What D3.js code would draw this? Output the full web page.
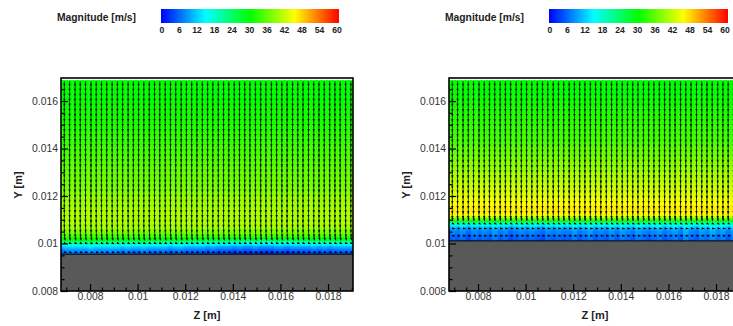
<!DOCTYPE html>
<html>
<head>
<meta charset="utf-8">
<script src="https://cdn.jsdelivr.net/npm/d3@7"></script>
<style>
  html, body { margin: 0; padding: 0; background: #fff; overflow: hidden; }
  text { font-family: "Liberation Sans", Arial, sans-serif; }
</style>
</head>
<body>
<div id="wrapper"></div>
<script>
// tick values
const zMajorTicks = [0.008, 0.01, 0.012, 0.014, 0.016, 0.018]
const zMajorLabels = ["0.008", "0.01", "0.012", "0.014", "0.016", "0.018"]
const zMinorTicks = [0.007, 0.0075, 0.0085, 0.009, 0.0095, 0.0105, 0.011, 0.0115, 0.0125, 0.013, 0.0135, 0.0145, 0.015, 0.0155, 0.0165, 0.017, 0.0175, 0.0185, 0.019]
const yMajorTicks = [0.008, 0.01, 0.012, 0.014, 0.016]
const yMajorLabels = ["0.008", "0.01", "0.012", "0.014", "0.016"]
const yMinorTicks = [0.0085, 0.009, 0.0095, 0.0105, 0.011, 0.0115, 0.0125, 0.013, 0.0135, 0.0145, 0.015, 0.0155, 0.0165]
const legendTicks = [0, 6, 12, 18, 24, 30, 36, 42, 48, 54, 60]

// colour map stops
const rampValues = [0, 15, 30, 45, 60]
const rampColors = ["#0000ff", "#00ffff", "#00ff00", "#ffff00", "#ff0000"]

// grid columns, shared by both panels
const zStations = [0.00692, 0.00714, 0.00737, 0.00759, 0.00781, 0.00804, 0.00826, 0.00848, 0.0087, 0.00893,
  0.00915, 0.00937, 0.0096, 0.00982, 0.01004, 0.01026, 0.01049, 0.01071, 0.01093, 0.01116,
  0.01138, 0.0116, 0.01183, 0.01205, 0.01227, 0.01249, 0.01272, 0.01294, 0.01316, 0.01339,
  0.01361, 0.01383, 0.01406, 0.01428, 0.0145, 0.01472, 0.01495, 0.01517, 0.01539, 0.01562,
  0.01584, 0.01606, 0.01628, 0.01651, 0.01673, 0.01695, 0.01718, 0.0174, 0.01762, 0.01784,
  0.01807, 0.01829, 0.01851, 0.01874, 0.01896]

// left panel: wall height and magnitude profile
const wallLeft = 0.00955
const fieldYLeft = [0.01688, 0.0167, 0.0165, 0.0162, 0.016, 0.0157, 0.0155, 0.0152, 0.015, 0.0147, 0.0145, 0.0142, 0.014, 0.0137, 0.0135, 0.0132, 0.013, 0.0127, 0.0125, 0.0122, 0.012, 0.0117, 0.0115, 0.0112, 0.011, 0.0108, 0.0106, 0.0105, 0.0104, 0.0103, 0.01025, 0.0102, 0.01015, 0.0101, 0.01005, 0.01, 0.00995, 0.0099, 0.00985, 0.0098, 0.00975, 0.0097, 0.00965, 0.0096]
const fieldLeft = [30, 30, 30, 30, 30.5, 31, 31, 31.5, 32, 32.5, 33, 33.5, 34, 34.5, 35, 35.5, 36, 36.5, 37, 38, 39, 39.5, 40, 40, 40, 39.5, 38, 36.5, 35, 33, 31, 29, 27, 24, 21, 18, 15, 12.5, 11, 9.5, 8, 7, 6, 5]
const wallOffsetLeft = [1, 1, 1, 1, 1, 2, 1, 1, 1, 1, 1, 0, 1, 0, 0, 1, 0, 0, 0, 0, -1, 0, 0, -1, -1, -1, -1, -2, -1, -2, -2, -2, -3, -2, -3, -3, -2, -3, -3, -3, -2, -2, -3, -2, -2, -2, -2, -1, -2, -1, -2, -1, -1, -1, -1]

// right panel: wall height and magnitude profile
const wallRight = 0.01011
const fieldYRight = [0.01688, 0.0167, 0.0165, 0.0162, 0.016, 0.0157, 0.0155, 0.0152, 0.015, 0.0147, 0.0145, 0.0142, 0.014, 0.0137, 0.0135, 0.0132, 0.013, 0.0127, 0.0125, 0.0122, 0.012, 0.0118, 0.0116, 0.0114, 0.0113, 0.0112, 0.01115, 0.0111, 0.01105, 0.011, 0.01095, 0.0109, 0.01085, 0.0108, 0.01075, 0.0107, 0.01065, 0.0106, 0.01055, 0.0105, 0.0104, 0.0103, 0.0102]
const fieldRight = [30, 30, 30, 30.5, 31, 31.5, 32, 32.5, 33, 33.5, 34, 35, 36, 37, 38, 39, 40, 41, 42, 43, 44, 45, 46, 46, 45.5, 44, 42, 39, 36, 32, 27, 22, 18, 15, 12.5, 11, 9.5, 8.5, 7.5, 7, 6, 5.5, 5]
const wallOffsetRight = [1, 0, 1, -1, 1, 0, 1, 0, 2, 0, 1, -1, 0, 1, 0, 1, 0, -1, 1, 0, 1, 0, 0, 2, 0, 1, 2, 0, 1, 0, 2, 0, 2, 1, 0, 2, 1, 0, 1, 2, 0, 1, 2, 0, 3, 1, 0, 2, 1, 3, 1, 2, 0, 2, 1]

// arrow rows, velocity components in m/s
const arrowYLeft = [0.01683, 0.01662, 0.01641, 0.0162, 0.01599, 0.01578, 0.01557, 0.01536, 0.01515, 0.01494, 0.01473, 0.01452, 0.01431, 0.0141, 0.01389, 0.01368, 0.01347, 0.01326, 0.01305, 0.01284, 0.01263, 0.01242, 0.01221, 0.012, 0.01179, 0.01158, 0.01137, 0.01116, 0.01095, 0.01074, 0.01053, 0.0103, 0.01002, 0.00964]
const arrowVyLeft = [-30, -30, -30, -30, -31, -31, -31, -32, -32, -33, -33, -33, -34, -34, -35, -35, -35, -36, -36, -37, -37, -37, -38, -38, -38, -39, -39, -39, -38, -38, -37, -24, -5, -2]
const arrowVzLeft = [0, 0, 0, 0, 0, 0, 0, 0, 0, 0, 0, 0, 0, 0, 0, 0, 0, 0, 0, 0, 0, 0, 0, 0, 0, 0, 0, 0, 0, 1, 2, 5, 12, 14]

const arrowYRight = [0.01683, 0.01662, 0.01641, 0.0162, 0.01599, 0.01578, 0.01557, 0.01536, 0.01515, 0.01494, 0.01473, 0.01452, 0.01431, 0.0141, 0.01389, 0.01368, 0.01347, 0.01326, 0.01305, 0.01284, 0.01263, 0.01242, 0.01221, 0.012, 0.01179, 0.01158, 0.01137, 0.01116, 0.01085, 0.01064, 0.01033]
const arrowVyRight = [-30, -30, -30, -31, -31, -32, -32, -33, -33, -34, -34, -35, -36, -37, -37, -38, -39, -40, -41, -42, -43, -43, -44, -45, -45, -46, -46, -30, -6, -2, -2]
const arrowVzRight = [0, 0, 0, 0, 0, 0, 0, 0, 0, 0, 0, 0, 0, 0, 0, 0, 0, 0, 0, 0, 0, 0, 0, 0, 0, 0, 0, 2, 12, 16, 16]

function drawChart() {

  const dimensions = { width: 733, height: 326 }

  const wrapper = d3.select("#wrapper")
    .append("svg")
      .attr("width", dimensions.width)
      .attr("height", dimensions.height)
      .style("display", "block")

  const colorScale = d3.scaleLinear()
    .domain(rampValues)
    .range(rampColors)
    .clamp(true)

  // shared gradient for both colour bars
  const gradient = wrapper.append("defs")
    .append("linearGradient")
      .attr("id", "legendGradient")
  gradient.selectAll("stop")
    .data(rampValues)
    .join("stop")
      .attr("offset", d => d / 60)
      .attr("stop-color", d => colorScale(d))

  function drawLegend(g, panel) {
    g.append("text")
      .attr("x", panel.legendTitleX)
      .attr("y", 21)
      .attr("font-size", 10.3)
      .attr("font-weight", "bold")
      .attr("fill", "#222")
      .text("Magnitude [m/s]")

    g.append("rect")
      .attr("x", panel.legendBar[0])
      .attr("y", 9)
      .attr("width", panel.legendBar[1] - panel.legendBar[0])
      .attr("height", 14)
      .attr("fill", "url(#legendGradient)")

    const legendScale = d3.scaleLinear()
      .domain([0, 60])
      .range(panel.legendLabels)

    g.selectAll(".legendLabel")
      .data(legendTicks)
      .join("text")
        .attr("class", "legendLabel")
        .attr("x", d => legendScale(d))
        .attr("y", 33)
        .attr("text-anchor", "middle")
        .attr("font-size", 8.6)
        .attr("font-weight", "bold")
        .attr("fill", "#222")
        .text(d => d)
  }

  function drawPanel(panel) {
    const g = wrapper.append("g")
    drawLegend(g, panel)

    const zScale = d3.scaleLinear()
      .domain([0.00678, 0.01905])
      .range([panel.left, panel.left + 292])
    const yScale = d3.scaleLinear()
      .domain([0.008, 0.01697])
      .range([291, 78])

    const clipId = "clip" + panel.left
    g.append("clipPath")
      .attr("id", clipId)
      .append("rect")
        .attr("x", panel.left)
        .attr("y", 78)
        .attr("width", 292)
        .attr("height", 213)

    const plot = g.append("g").attr("clip-path", `url(#${clipId})`)

    // contour cells, one row per profile value
    const rows = panel.fieldY.map((y, i) => ({
      y0: y,
      y1: i < panel.fieldY.length - 1 ? panel.fieldY[i + 1] : panel.wall,
      value: panel.field[i],
    }))
    const cells = rows.flatMap(row => zStations.map((z, c) => ({
      z,
      row,
      // the wall-bound layer varies along z, the free stream does not
      value: row.y0 < panel.layerTop ? row.value + panel.wallOffset[c] : row.value,
    })))

    const columnWidth = zScale(zStations[1]) - zScale(zStations[0])

    plot.selectAll(".cell")
      .data(cells)
      .join("rect")
        .attr("class", "cell")
        .attr("x", d => zScale(d.z) - columnWidth / 2)
        .attr("y", d => yScale(d.row.y0))
        .attr("width", columnWidth + 0.6)
        .attr("height", d => yScale(d.row.y1) - yScale(d.row.y0) + 0.6)
        .attr("fill", d => colorScale(d.value))

    // fill the strip left of the first column
    plot.selectAll(".edge")
      .data(rows)
      .join("rect")
        .attr("class", "edge")
        .attr("x", panel.left)
        .attr("y", d => yScale(d.y0))
        .attr("width", zScale(zStations[0]) - panel.left)
        .attr("height", d => yScale(d.y1) - yScale(d.y0) + 0.6)
        .attr("fill", d => colorScale(d.value))

    // velocity vectors
    const lengthScale = d3.scaleLinear().domain([0, 30]).range([0, 5])
    const arrows = panel.arrowY.flatMap((y, i) => zStations.map(z => ({
      z,
      y,
      vy: panel.arrowVy[i],
      vz: panel.arrowVz[i],
    })))

    const arrow = d3.line()

    plot.selectAll(".shaft")
      .data(arrows)
      .join("path")
        .attr("class", "shaft")
        .attr("d", d => {
          const x0 = zScale(d.z)
          const y0 = yScale(d.y)
          return arrow([[x0, y0], [x0 + lengthScale(d.vz), y0 - lengthScale(d.vy)]])
        })
        .attr("stroke", "#062000")
        .attr("stroke-opacity", 0.8)
        .attr("stroke-width", 1)
        .attr("fill", "none")

    plot.selectAll(".head")
      .data(arrows)
      .join("path")
        .attr("class", "head")
        .attr("d", d => {
          const tipX = zScale(d.z) + lengthScale(d.vz)
          const tipY = yScale(d.y) - lengthScale(d.vy)
          const angle = Math.atan2(-lengthScale(d.vy), lengthScale(d.vz))
          const back = 2.6
          const half = 1.15
          const baseX = tipX - back * Math.cos(angle)
          const baseY = tipY - back * Math.sin(angle)
          return arrow([
            [tipX, tipY],
            [baseX - half * Math.sin(angle), baseY + half * Math.cos(angle)],
            [baseX + half * Math.sin(angle), baseY - half * Math.cos(angle)],
          ]) + "Z"
        })
        .attr("fill", "#000")

    // wall block
    plot.append("rect")
      .attr("x", panel.left)
      .attr("y", yScale(panel.wall))
      .attr("width", 292)
      .attr("height", 291 - yScale(panel.wall))
      .attr("fill", "#595959")
    plot.append("line")
      .attr("x1", panel.left)
      .attr("x2", panel.left + 292)
      .attr("y1", yScale(panel.wall))
      .attr("y2", yScale(panel.wall))
      .attr("stroke", "#000")
      .attr("stroke-width", 1)

    // axes, ticks point into the plot
    const bottomMajor = d3.axisBottom(zScale)
      .tickValues(zMajorTicks)
      .tickSizeInner(-7)
      .tickSizeOuter(0)
      .tickPadding(2)
      .tickFormat((d, i) => zMajorLabels[i])
    const bottomMinor = d3.axisBottom(zScale)
      .tickValues(zMinorTicks)
      .tickSizeInner(-3.5)
      .tickSizeOuter(0)
      .tickFormat("")
    const leftMajor = d3.axisLeft(yScale)
      .tickValues(yMajorTicks)
      .tickSizeInner(-7)
      .tickSizeOuter(0)
      .tickPadding(3)
      .tickFormat((d, i) => yMajorLabels[i])
    const leftMinor = d3.axisLeft(yScale)
      .tickValues(yMinorTicks)
      .tickSizeInner(-3.5)
      .tickSizeOuter(0)
      .tickFormat("")

    const styleAxis = sel => {
      sel.select(".domain").remove()
      sel.selectAll("line").attr("stroke", "#000").attr("stroke-width", 1.2)
      sel.selectAll("text")
        .attr("font-size", 10.4)
        .attr("font-family", "'Liberation Sans', Arial, sans-serif")
        .attr("fill", "#333")
    }

    g.append("g").attr("transform", "translate(0,291)").call(bottomMajor).call(styleAxis)
    g.append("g").attr("transform", "translate(0,291)").call(bottomMinor).call(styleAxis)
    g.append("g").attr("transform", `translate(${panel.left},0)`).call(leftMajor).call(styleAxis)
    g.append("g").attr("transform", `translate(${panel.left},0)`).call(leftMinor).call(styleAxis)

    // frame
    g.append("rect")
      .attr("x", panel.left)
      .attr("y", 78)
      .attr("width", 292)
      .attr("height", 213)
      .attr("fill", "none")
      .attr("stroke", "#000")
      .attr("stroke-width", 1.6)

    // axis labels
    g.append("text")
      .attr("x", panel.left + 146)
      .attr("y", 319)
      .attr("text-anchor", "middle")
      .attr("font-size", 11)
      .attr("font-weight", "bold")
      .attr("fill", "#222")
      .text("Z [m]")

    g.append("text")
      .attr("transform", `translate(${panel.left - 39},185) rotate(-90)`)
      .attr("text-anchor", "middle")
      .attr("font-size", 11)
      .attr("font-weight", "bold")
      .attr("fill", "#222")
      .text("Y [m]")
  }

  drawPanel({
    left: 61,
    legendTitleX: 57,
    legendBar: [161, 339],
    legendLabels: [162, 337],
    wall: wallLeft,
    layerTop: 0.0103,
    fieldY: fieldYLeft,
    field: fieldLeft,
    wallOffset: wallOffsetLeft,
    arrowY: arrowYLeft,
    arrowVy: arrowVyLeft,
    arrowVz: arrowVzLeft,
  })

  drawPanel({
    left: 449,
    legendTitleX: 445,
    legendBar: [549, 728],
    legendLabels: [550, 725],
    wall: wallRight,
    layerTop: 0.0109,
    fieldY: fieldYRight,
    field: fieldRight,
    wallOffset: wallOffsetRight,
    arrowY: arrowYRight,
    arrowVy: arrowVyRight,
    arrowVz: arrowVzRight,
  })
}

drawChart()
</script>
</body>
</html>
